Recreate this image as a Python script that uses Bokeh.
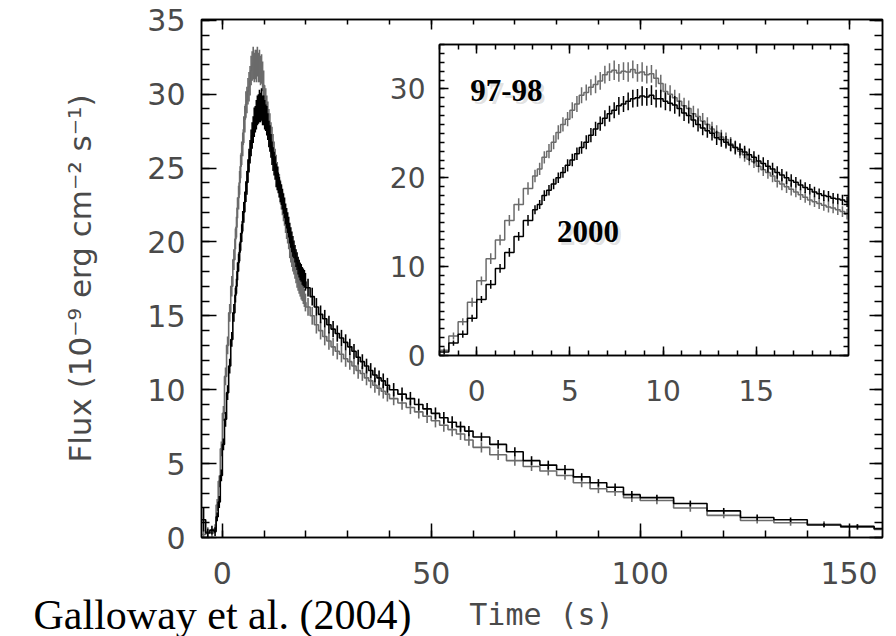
from bokeh.plotting import figure
from bokeh.models import (Range1d, LinearAxis, SingleIntervalTicker, Label, GridBox, Column,
                          ColumnDataSource, CustomJSTickFormatter)
from bokeh.embed import file_html
from bokeh.resources import INLINE

# ---------------- data ----------------
# time binning: (start, stop, bin width) in seconds
bin_segments = [(-5.0, -2.0, 1.0), (-2.0, 3.0, 0.5), (3.0, 20.0, 0.25),
                (20.0, 40.0, 1.0), (40.0, 60.0, 2.0), (60.0, 100.0, 4.0), (100.0, 164.0, 8.0)]

# 1997-98 burst (grey), flux in 1e-9 erg cm^-2 s^-1
flux_9798 = [0.2, 0.4, 0.3,
             0.6, 2.2, 3.8, 6.0, 8.4, 10.9, 13.0, 15.2, 17.0, 18.8,
             20.2, 21.0, 22.3, 23.0, 24.0, 25.1, 26.0, 26.6,
             27.6, 28.3, 29.3, 29.6, 30.2, 30.5, 30.9, 31.6,
             31.9, 32.1, 31.8, 32.0, 31.9, 32.2, 31.8, 31.9,
             31.6, 31.7, 31.2, 30.6, 29.7, 29.4, 29.0, 28.6,
             28.1, 27.8, 27.2, 26.9, 26.4, 26.0, 25.5, 25.1,
             24.6, 24.3, 23.8, 23.4,
             23.0, 22.6, 22.1, 21.8, 21.3, 20.9, 20.6, 20.2, 19.6, 19.3, 19.0, 18.7,
             18.4, 18.1, 17.8, 17.5, 17.3, 17.1, 16.9, 16.7, 16.6, 16.4, 16.2, 15.9,
             15.6, 15.0, 14.4, 14.0, 13.6, 13.3, 12.9, 12.6, 12.4, 12.1,
             11.9, 11.6, 11.3, 11.1, 10.8, 10.6, 10.3, 10.1, 9.9, 9.7,
             9.4, 9.1, 8.8, 8.5, 8.2, 7.9, 7.6, 7.3, 7.0, 6.6,
             6.1, 5.6, 5.2, 4.8, 4.5, 4.2, 3.7, 3.3, 3.1, 2.7,
             2.5, 2.0, 1.5, 1.15, 1.0, 0.9, 0.7, 0.55]
err_9798 = [0.3, 0.3, 0.3,
            0.3, 0.4, 0.4, 0.5, 0.5, 0.6, 0.6, 0.6, 0.7, 0.7,
            0.7, 0.7, 0.7, 0.8, 0.8, 0.8, 0.8, 0.8,
            0.9, 0.9, 0.9, 0.9, 0.9, 1.0, 1.0, 1.0,
            1.0, 1.1, 1.0, 1.0, 1.1, 1.0, 1.0, 1.1,
            1.0, 1.0, 1.0, 1.0, 0.9, 1.0, 0.9, 0.9,
            0.9, 0.9, 0.9, 0.9, 0.9, 0.8, 0.8, 0.8,
            0.8, 0.8, 0.8, 0.8,
            0.8, 0.8, 0.7, 0.7, 0.7, 0.7, 0.7, 0.7, 0.7, 0.7, 0.7, 0.7,
            0.6, 0.6, 0.6, 0.6, 0.6, 0.6, 0.6, 0.6, 0.6, 0.6, 0.6, 0.6,
            0.6, 0.6, 0.6, 0.6, 0.6, 0.6, 0.6, 0.55, 0.55, 0.55,
            0.55, 0.55, 0.55, 0.5, 0.5, 0.5, 0.5, 0.5, 0.5, 0.5,
            0.45, 0.45, 0.45, 0.45, 0.45, 0.45, 0.45, 0.45, 0.4, 0.4,
            0.35, 0.35, 0.35, 0.3, 0.3, 0.3, 0.3, 0.3, 0.3, 0.3,
            0.25, 0.25, 0.2, 0.2, 0.2, 0.2, 0.2, 0.2]

# 2000 burst (black)
flux_2000 = [1.2, 0.3, 0.5,
             0.4, 1.4, 2.4, 4.2, 6.3, 8.0, 9.8, 11.6, 13.4, 15.2,
             16.4, 17.0, 18.0, 18.6, 19.3, 20.0, 20.6, 21.4,
             22.0, 22.7, 23.4, 24.0, 24.8, 25.5, 26.1, 26.7,
             27.2, 27.6, 28.1, 28.3, 28.6, 28.9, 29.0, 29.2,
             29.1, 29.3, 28.9, 28.9, 28.6, 28.4, 28.2, 27.8,
             27.3, 27.0, 26.5, 26.0, 25.6, 25.3, 25.0, 24.5,
             24.3, 24.0, 23.7, 23.4,
             23.2, 22.9, 22.6, 22.3, 21.9, 21.6, 21.3, 21.0, 20.6, 20.3, 20.0, 19.7,
             19.5, 19.2, 18.9, 18.7, 18.4, 18.2, 18.0, 17.9, 17.7, 17.6, 17.5, 17.3,
             16.9, 16.3, 15.6, 15.1, 14.8, 14.4, 14.1, 13.8, 13.5, 13.2,
             12.9, 12.6, 12.2, 11.9, 11.6, 11.3, 11.0, 10.8, 10.6, 10.3,
             10.0, 9.7, 9.4, 9.0, 8.7, 8.4, 8.1, 7.8, 7.5, 7.2,
             6.8, 6.3, 5.8, 5.2, 4.9, 4.6, 4.1, 3.7, 3.4, 2.9,
             2.7, 2.3, 1.8, 1.35, 1.2, 0.85, 0.75, 0.6]
err_2000 = [0.8, 0.3, 0.3,
            0.3, 0.3, 0.4, 0.4, 0.4, 0.5, 0.5, 0.5, 0.5, 0.6,
            0.5, 0.5, 0.6, 0.6, 0.6, 0.6, 0.6, 0.7,
            0.7, 0.7, 0.7, 0.8, 0.8, 0.8, 0.8, 0.9,
            0.9, 0.9, 1.0, 0.9, 1.0, 1.0, 1.0, 1.1,
            1.0, 1.1, 1.0, 1.0, 1.0, 0.9, 1.0, 0.9,
            0.9, 0.9, 0.8, 0.8, 0.8, 0.8, 0.8, 0.8,
            0.8, 0.7, 0.7, 0.7,
            0.7, 0.7, 0.7, 0.7, 0.7, 0.7, 0.7, 0.7, 0.7, 0.7, 0.7, 0.7,
            0.6, 0.6, 0.6, 0.6, 0.6, 0.6, 0.6, 0.6, 0.6, 0.6, 0.6, 0.6,
            0.6, 0.6, 0.6, 0.6, 0.6, 0.6, 0.55, 0.55, 0.55, 0.55,
            0.55, 0.5, 0.5, 0.5, 0.5, 0.5, 0.5, 0.5, 0.5, 0.5,
            0.45, 0.45, 0.45, 0.4, 0.4, 0.4, 0.4, 0.4, 0.35, 0.35,
            0.3, 0.3, 0.3, 0.3, 0.3, 0.3, 0.25, 0.25, 0.25, 0.25,
            0.2, 0.2, 0.2, 0.2, 0.15, 0.15, 0.15, 0.15]

series_labels = ["97-98", "2000"]
series_colors = ["#6b6b6b", "#000000"]

main_x_range = (-5.0, 158.0)
main_y_range = (0.0, 35.05)
inset_x_range = (-2.0, 19.95)
inset_y_range = (0.0, 35.0)

W, H = 896, 636

# ---------------- bin geometry ----------------
edges = []
for start, stop, width in bin_segments:
    n = int(round((stop - start) / width))
    edges.extend(start + width * i for i in range(n))
edges.append(bin_segments[-1][1])
centers = [(edges[i] + edges[i + 1]) / 2 for i in range(len(edges) - 1)]

TICK_FONT = "DejaVu Sans"
TICK_COLOR = "#4a4a4a"


def draw_series(fig, flux, err, color, lw):
    step_src = ColumnDataSource(dict(x=edges, y=flux + [flux[-1]]))
    fig.step("x", "y", source=step_src, mode="after", line_color=color, line_width=lw)
    err_src = ColumnDataSource(dict(x=centers,
                                    lo=[f - e for f, e in zip(flux, err)],
                                    hi=[f + e for f, e in zip(flux, err)]))
    fig.segment(x0="x", y0="lo", x1="x", y1="hi", source=err_src, line_color=color, line_width=lw)


def style_axis(ax, major_in, minor_in, font_size, standoff, labels=True):
    ax.major_tick_in = major_in
    ax.major_tick_out = 0
    ax.minor_tick_in = minor_in
    ax.minor_tick_out = 0
    ax.axis_line_color = "black"
    ax.axis_line_width = 1.5
    ax.major_tick_line_color = "black"
    ax.minor_tick_line_color = "black"
    ax.major_tick_line_width = 1.5
    ax.minor_tick_line_width = 1.5
    if labels:
        ax.major_label_text_font = TICK_FONT
        ax.major_label_text_font_size = font_size
        ax.major_label_text_color = TICK_COLOR
        ax.major_label_standoff = standoff
    else:
        ax.formatter = CustomJSTickFormatter(code="return ''")
        ax.major_label_text_font_size = "1px"
        ax.major_label_standoff = 0


# ---------------- main figure ----------------
main = figure(width=W, height=H,
              x_range=Range1d(*main_x_range), y_range=Range1d(*main_y_range),
              min_border_left=201, min_border_right=14, min_border_top=19, min_border_bottom=99,
              output_backend="svg", toolbar_location=None,
              background_fill_color="white", border_fill_color="white",
              outline_line_color="black", outline_line_width=1.5)
main.grid.visible = False

main.xaxis.ticker = SingleIntervalTicker(interval=50, num_minor_ticks=5)
main.yaxis.ticker = SingleIntervalTicker(interval=5, num_minor_ticks=5)
style_axis(main.xaxis[0], 14, 7, "30px", 24)
style_axis(main.yaxis[0], 15, 8, "30px", 16)
main.yaxis.axis_label = "Flux (10⁻⁹ erg cm⁻² s⁻¹)"
main.yaxis.axis_label_text_font = TICK_FONT
main.yaxis.axis_label_text_font_style = "normal"
main.yaxis.axis_label_text_font_size = "31px"
main.yaxis.axis_label_text_color = TICK_COLOR
main.yaxis.axis_label_standoff = 46

top_ax = LinearAxis(ticker=SingleIntervalTicker(interval=50, num_minor_ticks=5))
style_axis(top_ax, 10, 5, None, 0, labels=False)
main.add_layout(top_ax, "above")
right_ax = LinearAxis(ticker=SingleIntervalTicker(interval=5, num_minor_ticks=5))
style_axis(right_ax, 13, 8, None, 0, labels=False)
main.add_layout(right_ax, "right")

draw_series(main, flux_9798, err_9798, series_colors[0], 1.6)
draw_series(main, flux_2000, err_2000, series_colors[1], 1.6)

# ---------------- inset figure (same canvas size, frame placed by borders) ----------------
inset = figure(width=W, height=H,
               x_range=Range1d(*inset_x_range), y_range=Range1d(*inset_y_range),
               min_border_left=439, min_border_right=48, min_border_top=44, min_border_bottom=281,
               output_backend="svg", toolbar_location=None,
               background_fill_color="white", border_fill_alpha=0.0,
               outline_line_color="black", outline_line_width=1.5)
inset.grid.visible = False
inset.xaxis.ticker = SingleIntervalTicker(interval=5, num_minor_ticks=5)
inset.yaxis.ticker = SingleIntervalTicker(interval=10, num_minor_ticks=10)
style_axis(inset.xaxis[0], 9, 5, "28px", 24)
style_axis(inset.yaxis[0], 9, 5, "28px", 14)
itop = LinearAxis(ticker=SingleIntervalTicker(interval=5, num_minor_ticks=5))
style_axis(itop, 9, 5, None, 0, labels=False)
inset.add_layout(itop, "above")
iright = LinearAxis(ticker=SingleIntervalTicker(interval=10, num_minor_ticks=10))
style_axis(iright, 9, 5, None, 0, labels=False)
inset.add_layout(iright, "right")

draw_series(inset, flux_9798, err_9798, series_colors[0], 1.5)
draw_series(inset, flux_2000, err_2000, series_colors[1], 1.5)

label_pos = [(-0.35, 28.6), (4.3, 12.8)]
for (lx, ly), txt in zip(label_pos, series_labels):
    inset.add_layout(Label(x=lx, y=ly, text=txt, text_font="Liberation Serif",
                           text_font_style="bold", text_font_size="31px",
                           text_color="#9a9a9a", text_alpha=0.3, x_offset=3, y_offset=-3))
    inset.add_layout(Label(x=lx, y=ly, text=txt, text_font="Liberation Serif",
                           text_font_style="bold", text_font_size="31px",
                           text_color="black"))

# ---------------- text overlay (pixel space of the page) ----------------
overlay = figure(width=W, height=H, x_range=Range1d(0, W), y_range=Range1d(H, 0),
                 title=None, min_border=0, x_axis_type=None, y_axis_type=None,
                 output_backend="svg", toolbar_location=None,
                 background_fill_alpha=0.0, border_fill_alpha=0.0, outline_line_color=None)
overlay.grid.visible = False
overlay.add_layout(Label(x=33, y=614, text="Galloway et al. (2004)", text_font="Liberation Serif",
                         text_font_size="42px", text_color="black", text_baseline="alphabetic"))
overlay.add_layout(Label(x=541, y=614, text="Time (s)", text_font="DejaVu Sans Mono",
                         text_font_size="30px", text_color=TICK_COLOR,
                         text_align="center", text_baseline="alphabetic"))

# each figure wrapped in its own column so that the grid does not align their frames
root = GridBox(children=[(Column(main), 0, 0), (Column(inset), 0, 0), (Column(overlay), 0, 0)])

with open("out.html", "w") as f:
    f.write(file_html(root, INLINE))
